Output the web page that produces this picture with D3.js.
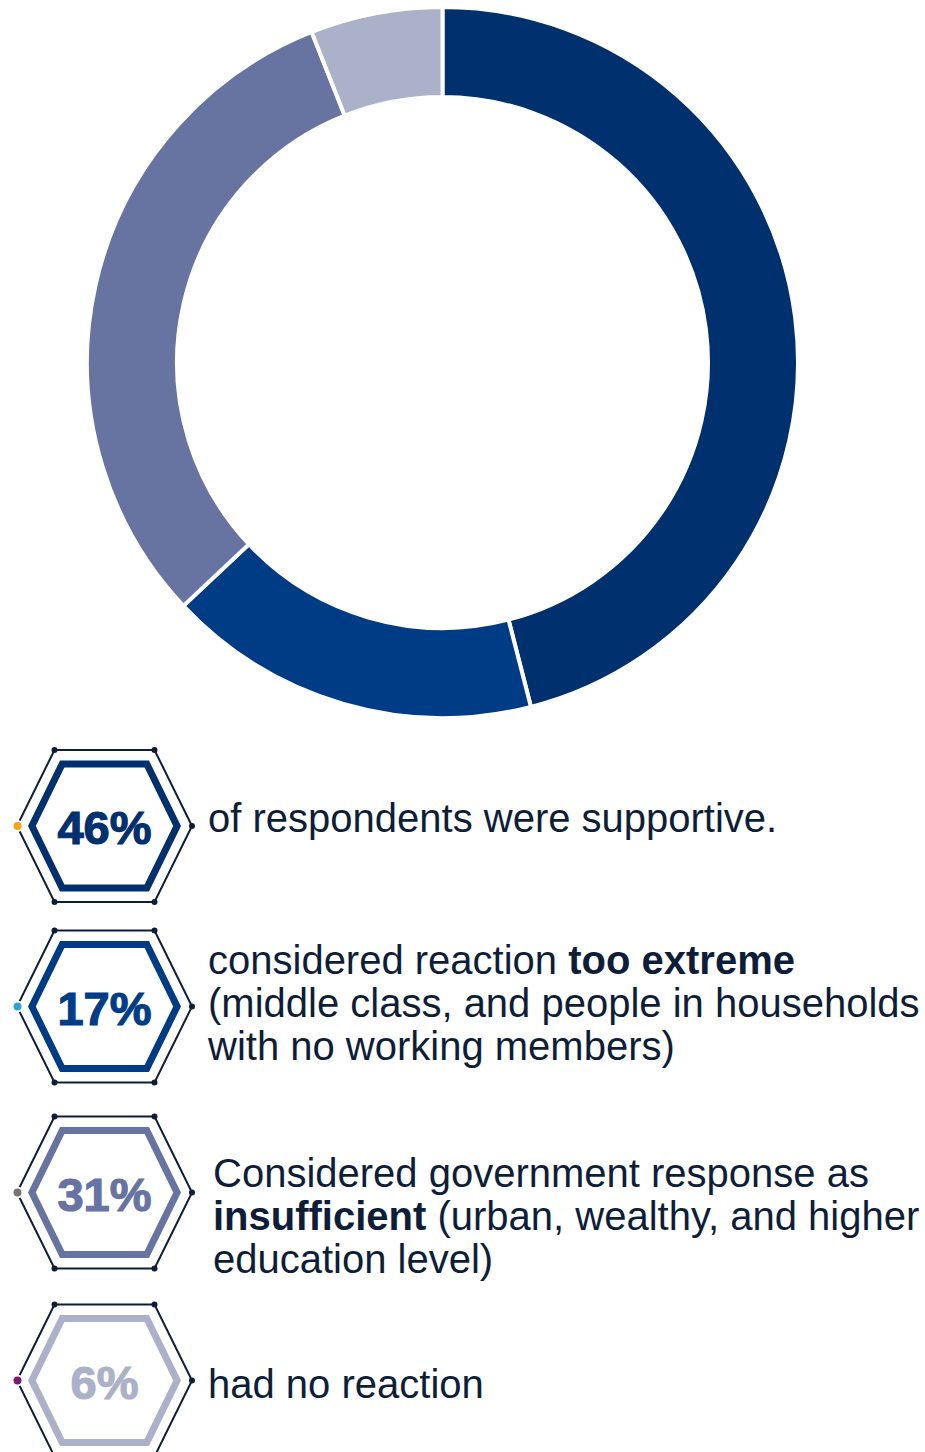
<!DOCTYPE html>
<html>
<head>
<meta charset="utf-8">
<script src="https://cdn.jsdelivr.net/npm/d3@7"></script>
<style>
  html, body { margin: 0; padding: 0; background: #ffffff; }
  svg { display: block; }
  text { font-family: "Liberation Sans", Arial, sans-serif; }
</style>
</head>
<body>
<svg id="chart" width="925" height="1452"></svg>
<script>
// Survey reaction shares
const categories = ["Supportive", "Too extreme", "Insufficient", "No reaction"];
const values = [46, 17, 31, 6];
const valueLabels = ["46%", "17%", "31%", "6%"];

// Description text for each share: lines of [text, bold] segments
const descriptions = [
  [[["of respondents were supportive.", false]]],
  [
    [["considered reaction ", false], ["too extreme", true]],
    [["(middle class, and people in households", false]],
    [["with no working members)", false]]
  ],
  [
    [["Considered government response as", false]],
    [["insufficient", true], [" (urban, wealthy, and higher", false]],
    [["education level)", false]]
  ],
  [[["had no reaction", false]]]
];

// Styling
const sliceColors = ["#00306e", "#003b85", "#6774a2", "#abb1c8"];
const badgeTextColors = ["#00306e", "#003d88", "#6673a3", "#abb1c8"];
const accentColors = ["#f5a51c", "#2ca3dd", "#7a7473", "#7b1a70"];
const inkColor = "#0f1e38";

// Layout
const donut = { cx: 442.5, cy: 362.5, outer: 355.5, inner: 265.5 };
const rowCenters = [826, 1006.5, 1192.5, 1380.5];
const firstBaselines = [832, 974, 1187, 1398];
const textX = [208, 208, 213, 208];
const lineHeight = 43;
const badgeX = 104.5;

const svg = d3.select("#chart");

// ---- Donut ----
const pie = d3.pie().sort(null).value(d => d).startAngle(0).endAngle(2 * Math.PI);
const arc = d3.arc().innerRadius(donut.inner).outerRadius(donut.outer);

svg.append("g")
  .attr("transform", `translate(${donut.cx},${donut.cy})`)
  .selectAll("path")
  .data(pie(values))
  .join("path")
  .attr("d", arc)
  .attr("fill", (d, i) => sliceColors[i])
  .attr("stroke", "#ffffff")
  .attr("stroke-width", 4)
  .attr("stroke-linejoin", "miter");

// ---- Hexagon badges ----
const outerHex = [[-50, -76], [50, -76], [87.5, 0], [50, 76], [-50, 76], [-87.5, 0]];
const innerHex = [[-42.3, -62], [42.3, -62], [72.6, 0], [42.3, 62], [-42.3, 62], [-72.6, 0]];
const line = d3.line();

const rows = svg.append("g").selectAll("g.row")
  .data(categories)
  .join("g")
  .attr("class", "row")
  .attr("transform", (d, i) => `translate(${badgeX},${rowCenters[i]})`);

// thin outer frame
rows.append("path")
  .attr("d", line(outerHex) + "Z")
  .attr("fill", "none")
  .attr("stroke", inkColor)
  .attr("stroke-width", 2);

// vertex dots (all but the left vertex)
rows.each(function () {
  d3.select(this).selectAll("circle.vx")
    .data(outerHex.slice(0, 5))
    .join("circle")
    .attr("class", "vx")
    .attr("cx", p => p[0])
    .attr("cy", p => p[1])
    .attr("r", 3)
    .attr("fill", inkColor);
});

// coloured accent dot on the left vertex
rows.append("circle")
  .attr("cx", outerHex[5][0] + 0.5)
  .attr("cy", 0)
  .attr("r", 5)
  .attr("fill", (d, i) => accentColors[i])
  .attr("stroke", "#ffffff")
  .attr("stroke-width", 2);

// thick inner hexagon
rows.append("path")
  .attr("d", line(innerHex) + "Z")
  .attr("fill", "#ffffff")
  .attr("stroke", (d, i) => sliceColors[i])
  .attr("stroke-width", 7)
  .attr("stroke-linejoin", "miter");

// percentage label
rows.append("text")
  .attr("x", 0)
  .attr("y", 18)
  .attr("text-anchor", "middle")
  .attr("font-size", 47)
  .attr("font-weight", "bold")
  .attr("fill", (d, i) => badgeTextColors[i])
  .attr("stroke", (d, i) => badgeTextColors[i])
  .attr("stroke-width", 1.2)
  .text((d, i) => valueLabels[i]);

// ---- Descriptions ----
descriptions.forEach((lines, i) => {
  const t = svg.append("text")
    .attr("font-size", 40)
    .attr("fill", inkColor);
  lines.forEach((segs, j) => {
    segs.forEach((seg, k) => {
      const ts = t.append("tspan")
        .attr("font-weight", seg[1] ? "bold" : "normal")
        .text(seg[0]);
      if (k === 0) {
        ts.attr("x", textX[i]).attr("y", firstBaselines[i] + j * lineHeight);
      }
    });
  });
});
</script>
</body>
</html>
